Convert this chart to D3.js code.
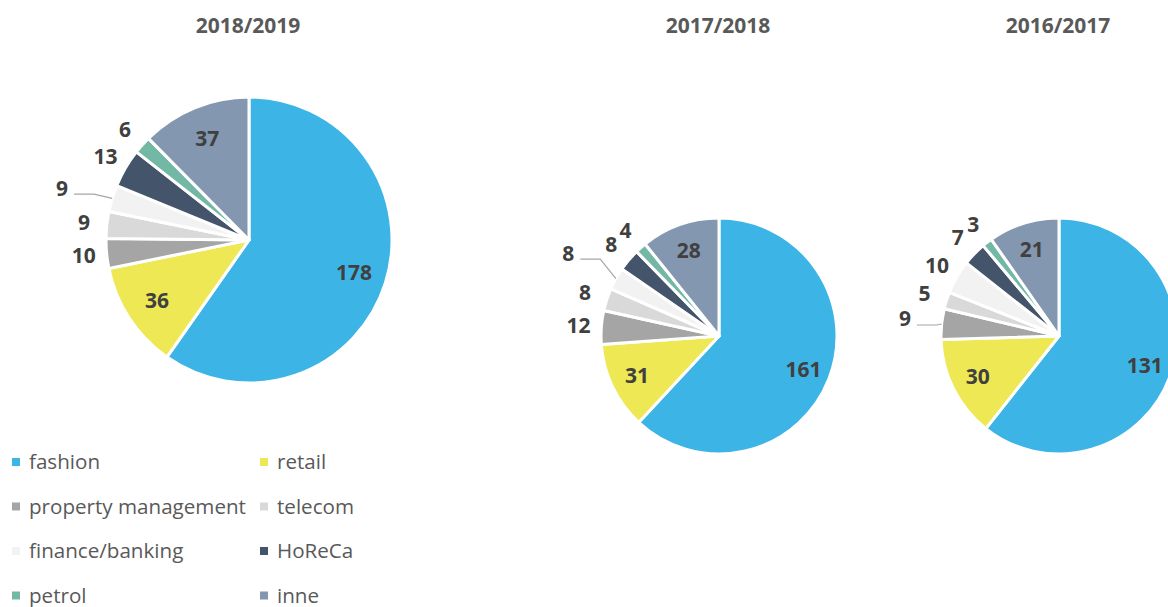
<!DOCTYPE html>
<html>
<head>
<meta charset="utf-8">
<script src="https://cdn.jsdelivr.net/npm/d3@7"></script>
<style>
  html, body { margin: 0; padding: 0; background: #fff; overflow: hidden; }
  svg { display: block; font-family: "Open Sans", sans-serif; }
</style>
</head>
<body>
<div id="chart"></div>
<script>
// Data
const categories = ['fashion', 'retail', 'property management', 'telecom', 'finance/banking', 'HoReCa', 'petrol', 'inne'];
const years = ['2018/2019', '2017/2018', '2016/2017'];
const values1819 = [178, 36, 10, 9, 9, 13, 6, 37];
const values1718 = [161, 31, 12, 8, 8, 8, 4, 28];
const values1617 = [131, 30, 9, 5, 10, 7, 3, 21];
const colors = ['#3db4e6', '#ede854', '#a5a5a5', '#d9d9d9', '#f2f2f2', '#44546a', '#72b8a5', '#8497b0'];

const width = 1168;
const height = 607;

// layout for each pie (centre, radius, label nudge with leader line)
const pies = [
  { title: years[0], values: values1819, cx: 249, cy: 240, r: 143, leader: { index: 4, angle: 285.5, dist: 194 } },
  { title: years[1], values: values1718, cx: 719, cy: 336, r: 118, leader: { index: 4, angle: 298.8, dist: 172 } },
  { title: years[2], values: values1617, cx: 1059, cy: 336, r: 118, leader: { index: 2, angle: 276.3, dist: 155 } }
];

const svg = d3.select('#chart')
  .append('svg')
  .attr('width', width)
  .attr('height', height);

const pie = d3.pie().sort(null).value(d => d.value);
const rad = deg => deg * Math.PI / 180;
const polar = (a, d) => [d * Math.sin(a), -d * Math.cos(a)];

pies.forEach(p => {
  // title
  svg.append('text')
    .attr('x', p.cx - 1)
    .attr('y', 26)
    .attr('dy', '0.35em')
    .attr('text-anchor', 'middle')
    .style('fill', '#595959')
    .style('font-size', '21px')
    .style('font-weight', 700)
    .text(p.title);

  const g = svg.append('g')
    .attr('transform', `translate(${p.cx},${p.cy})`);

  const arcs = pie(p.values.map((v, i) => ({ value: v, cat: categories[i], color: colors[i] })));
  const arc = d3.arc().innerRadius(0).outerRadius(p.r);

  g.selectAll('path.slice')
    .data(arcs)
    .enter().append('path')
    .attr('class', 'slice')
    .attr('d', arc)
    .attr('fill', d => d.data.color)
    .attr('stroke', '#fff')
    .attr('stroke-width', 3)
    .attr('stroke-linejoin', 'round');

  arcs.forEach((d, i) => {
    const mid = (d.startAngle + d.endAngle) / 2;
    const span = d.endAngle - d.startAngle;
    let pos;
    if (p.leader && p.leader.index === i) {
      pos = polar(rad(p.leader.angle), p.leader.dist);
      // leader line from label to slice edge
      const edge = polar(mid, p.r);
      const sx = pos[0] + 12, sy = pos[1] + 6;
      const ex = Math.min(sx + 20, edge[0] - 2);
      g.append('polyline')
        .attr('points', `${sx},${sy} ${ex},${sy} ${edge[0]},${edge[1]}`)
        .attr('fill', 'none')
        .attr('stroke', '#a6a6a6')
        .attr('stroke-width', 1.2);
    } else if (span > rad(30)) {
      pos = polar(mid, p.r * 0.77);
    } else {
      pos = polar(mid, p.r + 23);
    }
    g.append('text')
      .attr('x', pos[0])
      .attr('y', pos[1])
      .attr('dy', '0.35em')
      .attr('text-anchor', 'middle')
      .style('fill', '#404040')
      .style('font-size', '21px')
      .style('font-weight', 700)
      .text(d.data.value);
  });
});

// legend, two columns
const legend = svg.append('g');
categories.forEach((c, i) => {
  const col = i % 2;
  const row = Math.floor(i / 2);
  const x = col === 0 ? 12 : 260;
  const y = 462 + row * 44.5;
  const item = legend.append('g').attr('transform', `translate(${x},${y})`);
  item.append('rect')
    .attr('x', 0)
    .attr('y', -4)
    .attr('width', 8)
    .attr('height', 8)
    .attr('fill', colors[i]);
  item.append('text')
    .attr('x', 17)
    .attr('y', 0)
    .attr('dy', '0.35em')
    .style('fill', '#595959')
    .style('font-size', '20.6px')
    .text(c);
});
</script>
</body>
</html>
